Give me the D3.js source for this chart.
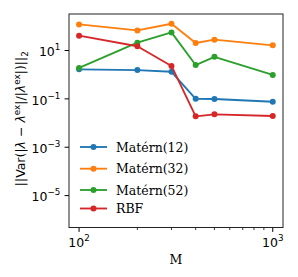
<!DOCTYPE html>
<html><head><meta charset="utf-8">
<script src="https://cdn.jsdelivr.net/npm/d3@7"></script>
<style>body{margin:0;background:#fff}svg{display:block}</style>
</head><body>
<svg id="c" width="298" height="277"></svg>
<script>
const M = [100, 200, 300, 400, 500, 1000];
const matern12 = [1.66, 1.55, 1.32, 0.100, 0.099, 0.076];
const matern32 = [120, 68, 128, 20.4, 28, 16.4];
const matern52 = [1.9, 21, 56, 2.5, 5.5, 0.98];
const rbf = [41, 15, 2.3, 0.019, 0.023, 0.0195];
const seriesNames = ["Matérn(12)", "Matérn(32)", "Matérn(52)", "RBF"];
const colors = ["#1f77b4", "#ff7f0e", "#2ca02c", "#d62728"];
const yTicks = [1e1, 1e-1, 1e-3, 1e-5];
const yTickLabels = ["1", "−1", "−3", "−5"];
const xTicks = [100, 1000];
const xTickLabels = ["2", "3"];
const xMinor = [200, 300, 400, 500, 600, 700, 800, 900];

const series = [matern12, matern32, matern52, rbf];
const L = 69, R = 283, T = 14, B = 227.5;
const svg = d3.select("#c");
const x = d3.scaleLog().domain([Math.pow(10, 1.948), Math.pow(10, 3.053)]).range([L, R]);
const y = d3.scaleLog().domain([Math.pow(10, -6.32), Math.pow(10, 2.51)]).range([B, T]);

const sans = "DejaVu Sans", serif = "DejaVu Serif";
const fs = 12.5, sfs = 8.75;
// ticks
xTicks.forEach((t, i) => {
  svg.append("line").attr("x1", x(t)).attr("x2", x(t)).attr("y1", B).attr("y2", B + 4.4).attr("stroke", "#000").attr("stroke-width", 1);
  const tx = svg.append("text").attr("x", x(t)).attr("y", B + 19).attr("text-anchor", "middle").attr("font-family", sans).attr("font-size", fs);
  tx.append("tspan").text("10");
  tx.append("tspan").attr("dy", -6).attr("font-size", sfs).text(xTickLabels[i]);
});
xMinor.forEach(t => {
  svg.append("line").attr("x1", x(t)).attr("x2", x(t)).attr("y1", B).attr("y2", B + 2.5).attr("stroke", "#000").attr("stroke-width", 0.8);
});
yTicks.forEach((t, i) => {
  svg.append("line").attr("x1", L - 4.4).attr("x2", L).attr("y1", y(t)).attr("y2", y(t)).attr("stroke", "#000").attr("stroke-width", 1);
  const tx = svg.append("text").attr("x", L - 8.6).attr("y", y(t) + 5.8).attr("text-anchor", "end").attr("font-family", sans).attr("font-size", fs);
  tx.append("tspan").text("10");
  tx.append("tspan").attr("dy", -6).attr("font-size", sfs).text(yTickLabels[i]);
});

// lines
const line = d3.line().x((d, i) => x(M[i])).y(d => y(d));
series.forEach((s, k) => {
  const g = svg.append("g");
  g.append("path").attr("d", line(s)).attr("fill", "none").attr("stroke", colors[k]).attr("stroke-width", 1.85).attr("stroke-linejoin", "round");
  g.selectAll("circle").data(s).join("circle").attr("cx", (d, i) => x(M[i])).attr("cy", d => y(d)).attr("r", 3).attr("fill", colors[k]);
});

// frame
svg.append("rect").attr("x", L).attr("y", T).attr("width", R - L).attr("height", B - T).attr("fill", "none").attr("stroke", "#222").attr("stroke-width", 1);

// legend
const legendY = [147, 168.7, 190, 208.5];
seriesNames.forEach((n, k) => {
  const yy = legendY[k];
  svg.append("line").attr("x1", 80).attr("x2", 107).attr("y1", yy).attr("y2", yy).attr("stroke", colors[k]).attr("stroke-width", 1.85);
  svg.append("circle").attr("cx", 93.5).attr("cy", yy).attr("r", 3).attr("fill", colors[k]);
  svg.append("text").attr("x", 116).attr("y", yy + 4.6).attr("font-family", serif).attr("font-size", fs).text(n);
});

// axis labels
svg.append("text").attr("x", (L + R) / 2).attr("y", 264.3).attr("text-anchor", "middle").attr("font-family", serif).attr("font-size", fs).text("M");
const yl = svg.append("text").attr("transform", `translate(25,${(T + B) / 2 - 2}) rotate(-90)`).attr("text-anchor", "middle").attr("font-family", sans).attr("font-size", fs);
yl.append("tspan").text("||Var(|");
yl.append("tspan").attr("font-style", "italic").text("λ");
yl.append("tspan").text(" − ");
yl.append("tspan").attr("font-style", "italic").text("λ");
yl.append("tspan").attr("dy", -5).attr("font-size", sfs).text("ex");
yl.append("tspan").attr("dy", 5).text("|/|");
yl.append("tspan").attr("font-style", "italic").text("λ");
yl.append("tspan").attr("dy", -5).attr("font-size", sfs).text("ex");
yl.append("tspan").attr("dy", 5).text("|)||");
yl.append("tspan").attr("dy", 3).attr("font-size", sfs).text("2");
</script>
</body></html>
